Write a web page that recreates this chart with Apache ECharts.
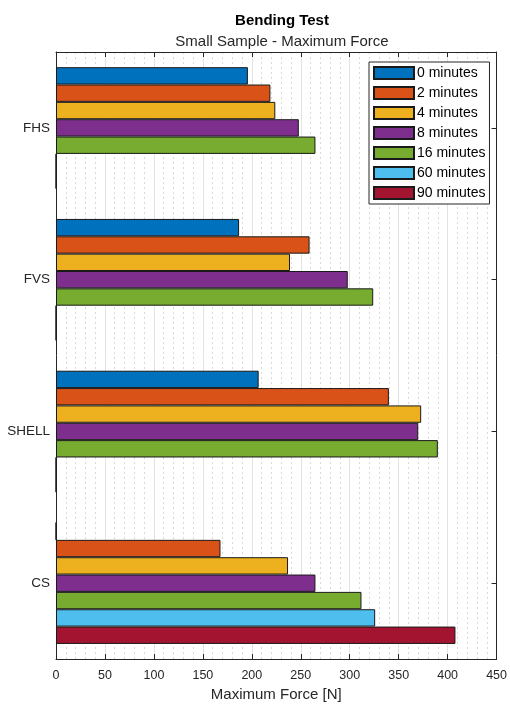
<!DOCTYPE html>
<html>
<head>
<meta charset="utf-8">
<script src="https://cdn.jsdelivr.net/npm/echarts@6/dist/echarts.min.js"></script>
<style>
  html, body { margin: 0; padding: 0; background: #fff; }
  #chart { width: 510px; height: 707px; }
</style>
</head>
<body>
<div id="chart"></div>
<script>
// Specimen types (top to bottom)
const categories = ['FHS', 'FVS', 'SHELL', 'CS'];

// Maximum force [N] per soaking time, in the order of categories
const seriesNames = ['0 minutes', '2 minutes', '4 minutes', '8 minutes', '16 minutes', '60 minutes', '90 minutes'];
const min0  = [196, 187, 207, 0];
const min2  = [219, 259, 340, 168];
const min4  = [224, 239, 373, 237];
const min8  = [248, 298, 370, 265];
const min16 = [265, 324, 390, 312];
const min60 = [0, 0, 0, 326];
const min90 = [0, 0, 0, 408];
const seriesValues = [min0, min2, min4, min8, min16, min60, min90];

// X axis ticks
const xMin = 0, xMax = 450, xStep = 50;

const colors = ['#0072BD', '#D95319', '#EDB120', '#7E2F8E', '#77AC30', '#4DBEEE', '#A2142F'];
const font = '"Liberation Sans", Arial, Helvetica, sans-serif';
const axisColor = '#262626';

const chart = echarts.init(document.getElementById('chart'), null, { renderer: 'canvas' });

const series = seriesNames.map((name, i) => ({
  name: name,
  type: 'bar',
  yAxisIndex: 0,
  data: seriesValues[i],
  barGap: '0%',
  barCategoryGap: '20%',
  itemStyle: { color: colors[i], borderColor: '#1a1a1a', borderWidth: 1 },
  emphasis: { disabled: true },
  animation: false
}));

chart.setOption({
  animation: false,
  textStyle: { fontFamily: font },
  title: [
    {
      text: 'Bending Test',
      left: 277, top: 8, textAlign: 'center',
      textStyle: { fontFamily: font, fontSize: 15, fontWeight: 'bold', color: '#000' }
    },
    {
      text: 'Small Sample - Maximum Force',
      left: 277, top: 29, textAlign: 'center',
      textStyle: { fontFamily: font, fontSize: 15, fontWeight: 'normal', color: '#262626' }
    }
  ],
  legend: {
    orient: 'vertical',
    left: 369, top: 62,
    data: seriesNames,
    icon: 'rect',
    itemWidth: 40, itemHeight: 12, itemGap: 6,
    padding: [4, 4, 4, 4],
    backgroundColor: '#fff',
    borderColor: '#262626', borderWidth: 1,
    textStyle: { fontFamily: font, fontSize: 14, color: '#000', padding: [0, 0, 0, -2] },
    selectedMode: false
  },
  grid: { left: 56, right: 11, top: 52, bottom: 45, containLabel: false },
  xAxis: [
    {
      type: 'value', position: 'bottom',
      min: xMin, max: xMax, interval: xStep,
      name: 'Maximum Force [N]', nameLocation: 'middle', nameGap: 24,
      nameTextStyle: { fontFamily: font, fontSize: 15, color: '#262626' },
      axisLine: { show: true, lineStyle: { color: axisColor, width: 1 } },
      axisTick: { show: true, inside: true, length: 5, lineStyle: { color: axisColor } },
      axisLabel: { fontFamily: font, fontSize: 12.5, color: '#262626', margin: 10 },
      splitLine: { show: true, lineStyle: { color: '#e3e3e3', width: 1 } },
      minorTick: { show: false, splitNumber: 5 },
      minorSplitLine: { show: true, lineStyle: { color: '#d9d9d9', width: 1, type: [2, 3] } }
    },
    {
      type: 'value', position: 'top',
      min: xMin, max: xMax, interval: xStep,
      axisLine: { show: true, onZero: false, lineStyle: { color: axisColor, width: 1 } },
      axisTick: { show: true, inside: true, length: 5, lineStyle: { color: axisColor } },
      axisLabel: { show: false },
      splitLine: { show: false }
    }
  ],
  yAxis: [
    {
      type: 'category', position: 'left', inverse: true,
      data: categories,
      axisLine: { show: true, lineStyle: { color: axisColor, width: 1 } },
      axisTick: { show: false },
      axisLabel: { fontFamily: font, fontSize: 13.5, color: '#262626', margin: 6 },
      splitLine: { show: false }
    },
    {
      type: 'category', position: 'right', inverse: true,
      data: categories,
      axisLine: { show: true, onZero: false, lineStyle: { color: axisColor, width: 1 } },
      axisTick: { show: true, inside: true, alignWithLabel: true, length: 5, lineStyle: { color: axisColor } },
      axisLabel: { show: false },
      splitLine: { show: false }
    }
  ],
  series: series
});
</script>
</body>
</html>
